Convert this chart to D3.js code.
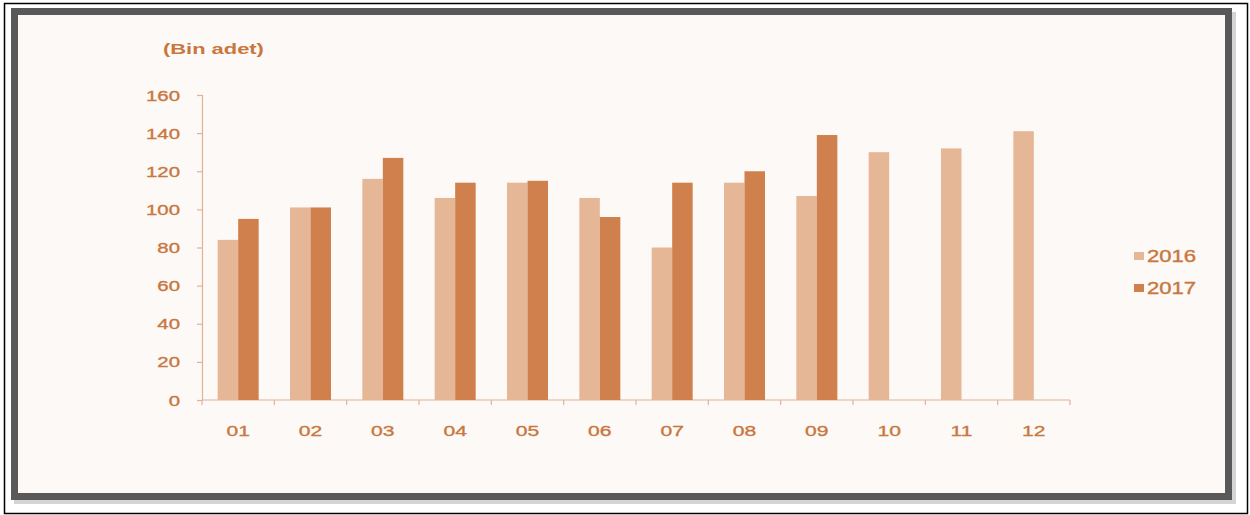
<!DOCTYPE html>
<html>
<head>
<meta charset="utf-8">
<script src="https://cdn.jsdelivr.net/npm/d3@7"></script>
<style>
body { margin: 0; background: #fff; }
svg { display: block; font-family: "Liberation Sans", Arial, sans-serif; }
</style>
</head>
<body>
<div id="chart"></div>
<script>
const months = ['01','02','03','04','05','06','07','08','09','10','11','12'];
const series = ['2016', '2017'];
const values2016 = [84, 101, 116, 106, 114, 106, 80, 114, 107, 130, 132, 141];
const values2017 = [95, 101, 127, 114, 115, 96, 114, 120, 139, null, null, null];
const yTicks = [0, 20, 40, 60, 80, 100, 120, 140, 160];

const width = 1250, height = 515;
const colors = ['#e6b797', '#d0804c'];
const textColor = '#c8773f';
const axisColor = '#ddb497';
const sx = 1.36; // the reference text looks stretched sideways

const svg = d3.select('#chart').append('svg')
  .attr('width', width)
  .attr('height', height);

// outer thin black border
svg.append('rect')
  .attr('x', 4.5).attr('y', 3.5)
  .attr('width', 1243).attr('height', 510)
  .attr('fill', '#fff').attr('stroke', '#000').attr('stroke-width', 1.5);

// shadow under the frame
svg.append('rect')
  .attr('x', 14).attr('y', 12)
  .attr('width', 1222).attr('height', 492)
  .attr('fill', '#b8b8b8').attr('opacity', 0.6);

// gray frame
svg.append('rect')
  .attr('x', 14.5).attr('y', 11.5)
  .attr('width', 1214).attr('height', 485)
  .attr('fill', '#fdf9f6').attr('stroke', '#595959').attr('stroke-width', 7);

const x = d3.scaleBand()
  .domain(months)
  .range([202, 1070]);

const x1 = d3.scaleBand()
  .domain(series)
  .range([0, 41]);

const y = d3.scaleLinear()
  .domain([0, 160])
  .range([400, 95]);

const label = (sel, size) => sel
  .attr('fill', textColor)
  .attr('stroke', textColor)
  .attr('stroke-width', 0.35)
  .style('font-size', size + 'px');

// y axis
const yAxis = svg.append('g')
  .attr('transform', 'translate(202,0)')
  .call(d3.axisLeft(y).tickValues(yTicks).tickSize(5).tickFormat(''));
yAxis.select('.domain').attr('stroke', axisColor).attr('stroke-width', 1.2);
yAxis.selectAll('.tick line').attr('stroke', axisColor).attr('stroke-width', 1.2);

svg.append('g')
  .selectAll('text')
  .data(yTicks)
  .enter()
  .append('text')
  .attr('transform', d => 'translate(180,' + (y(d) + 5.5) + ') scale(' + sx + ',1)')
  .attr('text-anchor', 'end')
  .call(label, 15)
  .text(d => d);

// x axis (ticks at band boundaries)
const xAxis = svg.append('g')
  .attr('transform', 'translate(0,400)');
xAxis.append('line')
  .attr('x1', 202).attr('x2', 1070)
  .attr('stroke', axisColor).attr('stroke-width', 1.2);
const bounds = months.map(m => x(m)).concat([x.range()[1]]);
xAxis.selectAll('line.tk')
  .data(bounds)
  .enter()
  .append('line')
  .attr('class', 'tk')
  .attr('x1', d => d).attr('x2', d => d)
  .attr('y1', 0).attr('y2', 5)
  .attr('stroke', axisColor).attr('stroke-width', 1.2);
xAxis.selectAll('text')
  .data(months)
  .enter()
  .append('text')
  .attr('transform', d => 'translate(' + (x(d) + x.bandwidth() / 2) + ',36) scale(' + sx + ',1)')
  .attr('text-anchor', 'middle')
  .call(label, 15.5)
  .text(d => d);

// bars
const data = months.map((m, i) => ({ month: m, vals: [values2016[i], values2017[i]] }));
const groups = svg.append('g')
  .selectAll('g')
  .data(data)
  .enter()
  .append('g')
  .attr('transform', d => 'translate(' + (x(d.month) + x.bandwidth() / 2 - 20.5) + ',0)');

groups.selectAll('rect')
  .data(d => d.vals.map((v, i) => ({ key: series[i], v: v, i: i })).filter(e => e.v != null))
  .enter()
  .append('rect')
  .attr('x', d => x1(d.key))
  .attr('width', x1.bandwidth())
  .attr('y', d => y(d.v))
  .attr('height', d => y(0) - y(d.v))
  .attr('fill', d => colors[d.i]);

// title
svg.append('text')
  .attr('transform', 'translate(163,54) scale(1.46,1)')
  .call(label, 15)
  .style('font-weight', 'bold')
  .attr('stroke-width', 0)
  .text('(Bin adet)');

// legend
const legend = svg.append('g')
  .selectAll('g')
  .data(series)
  .enter()
  .append('g')
  .attr('transform', (d, i) => 'translate(1134,' + (256 + i * 32) + ')');
legend.append('rect')
  .attr('x', 0).attr('y', -4)
  .attr('width', 10).attr('height', 8)
  .attr('fill', (d, i) => colors[i]);
legend.append('text')
  .attr('transform', 'translate(13,6) scale(1.38,1)')
  .call(label, 16)
  .text(d => d);
</script>
</body>
</html>
